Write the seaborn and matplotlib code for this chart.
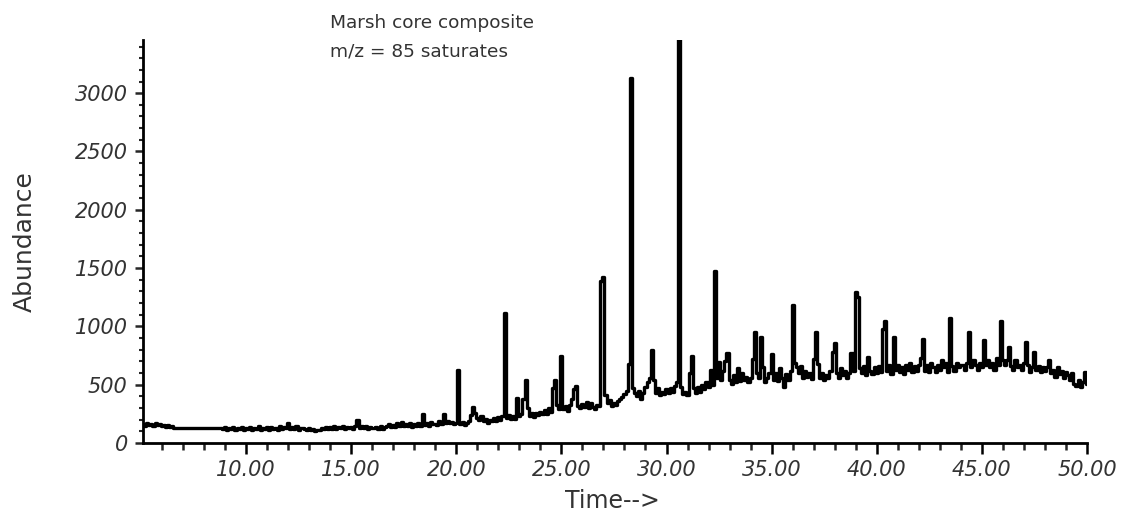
import numpy as np
import pandas as pd
import matplotlib
matplotlib.use("Agg")
import matplotlib.pyplot as plt
from matplotlib.ticker import MultipleLocator, FormatStrFormatter
import seaborn as sns

# Ion chromatogram, m/z 85, one scan value every 0.1 min from 5.1 to 50.0 min
abund_05_10 = [
    165, 150, 175, 158, 162, 148, 170, 155, 160, 145,
    152, 140, 158, 136, 145, 130, 130, 130, 130, 130,
    130, 130, 130, 130, 130, 130, 130, 130, 130, 130,
    130, 130, 130, 130, 130, 130, 130, 130, 118, 135,
    112, 130, 120, 138, 115, 128, 122, 140, 110, 126,
]
abund_10_15 = [
    118, 135, 112, 130, 120, 142, 115, 128, 120, 133,
    114, 138, 122, 126, 112, 145, 120, 135, 128, 172,
    120, 140, 118, 150, 115, 132, 125, 120, 112, 128,
    110, 118, 105, 112, 108, 130, 118, 140, 122, 135,
    120, 145, 118, 138, 125, 150, 120, 134, 128, 140,
]
abund_15_20 = [
    122, 148, 195, 130, 150, 125, 142, 120, 135, 128,
    125, 140, 122, 150, 118, 138, 145, 160, 135, 158,
    140, 168, 150, 178, 145, 165, 150, 172, 140, 160,
    150, 175, 148, 245, 155, 170, 145, 178, 160, 165,
    158, 185, 165, 245, 170, 190, 168, 180, 160, 175,
]
abund_20_25 = [
    630, 165, 180, 158, 175, 190, 240, 305, 260, 215,
    195, 230, 185, 210, 175, 200, 185, 215, 190, 220,
    200, 235, 1112, 215, 240, 205, 230, 210, 385, 230,
    250, 380, 540, 300, 235, 260, 225, 255, 240, 270,
    250, 280, 245, 300, 265, 470, 540, 330, 290, 746,
]
abund_25_30 = [
    290, 320, 275, 330, 380, 460, 490, 320, 300, 335,
    310, 355, 300, 340, 310, 290, 330, 315, 1390, 1420,
    410, 340, 370, 320, 345, 330, 360, 380, 395, 420,
    450, 680, 3130, 470, 430, 400, 445, 380, 430, 480,
    520, 560, 798, 540, 430, 470, 410, 440, 420, 460,
]
abund_30_35 = [
    430, 470, 440, 490, 520, 3600, 480, 420, 440, 410,
    600, 746, 470, 430, 480, 440, 500, 460, 520, 480,
    626, 500, 1478, 560, 697, 540, 620, 700, 772, 540,
    510, 580, 520, 640, 530, 600, 540, 570, 520, 560,
    720, 955, 600, 560, 909, 650, 520, 560, 600, 763,
]
abund_35_40 = [
    540, 600, 530, 640, 560, 480, 590, 540, 620, 1183,
    690, 654, 600, 660, 560, 620, 570, 600, 550, 720,
    955, 680, 560, 600, 540, 580, 560, 620, 780, 860,
    600, 560, 640, 580, 620, 560, 600, 772, 620, 1298,
    1250, 640, 600, 660, 580, 740, 620, 590, 650, 600,
]
abund_40_45 = [
    660, 610, 980, 1049, 620, 670, 590, 909, 630, 670,
    610, 650, 590, 670, 630, 690, 610, 660, 620, 670,
    730, 889, 620, 670, 610, 690, 650, 610, 670, 630,
    710, 650, 690, 610, 1069, 660, 620, 690, 650, 670,
    670, 630, 690, 955, 650, 710, 670, 630, 690, 650,
]
abund_45_50 = [
    883, 670, 710, 650, 690, 630, 730, 670, 1046, 710,
    670, 710, 826, 660, 630, 710, 650, 670, 630, 690,
    869, 670, 610, 650, 783, 630, 660, 610, 650, 620,
    650, 712, 600, 630, 570, 650, 590, 620, 560, 610,
    580, 540, 600, 510, 490, 540, 480, 520, 612, 510,
]

title_lines = ["Marsh core composite", "m/z = 85 saturates"]

abundance = np.concatenate([abund_05_10, abund_10_15, abund_15_20, abund_20_25,
                            abund_25_30, abund_30_35, abund_35_40, abund_40_45,
                            abund_45_50])
scan_index = np.arange(51, 51 + len(abundance))
df = pd.DataFrame({"time": scan_index / 10.0, "abundance": abundance})

sns.set_style("ticks")
plt.rcParams["font.family"] = ["DejaVu Sans"]

fig = plt.figure(figsize=(11.22, 5.18), dpi=100)
ax = fig.add_axes([143 / 1122, 1 - 443 / 518, (1087 - 143) / 1122, (443 - 40) / 518])

# detector trace drawn as scan steps, like the instrument plot
sns.lineplot(data=df, x="time", y="abundance", ax=ax, color="black",
             linewidth=2.4, estimator=None, sort=False, drawstyle="steps-mid")

ax.set_xlim(5.1, 50.0)
ax.set_ylim(0, 3456)

for side in ("top", "right"):
    ax.spines[side].set_visible(False)
for side in ("left", "bottom"):
    ax.spines[side].set_linewidth(2.0)
    ax.spines[side].set_color("black")

ax.xaxis.set_major_locator(MultipleLocator(5))
ax.xaxis.set_minor_locator(MultipleLocator(1))
ax.xaxis.set_major_formatter(FormatStrFormatter("%.2f"))
ax.yaxis.set_major_locator(MultipleLocator(500))
ax.yaxis.set_minor_locator(MultipleLocator(100))

ax.tick_params(axis="x", which="major", direction="out", length=8, width=1.8,
               pad=4, labelsize=15, colors="black", labelcolor="#333333")
ax.tick_params(axis="x", which="minor", direction="out", length=5, width=1.8)
ax.tick_params(axis="y", which="major", direction="out", length=6, width=1.8,
               pad=5, labelsize=15, labelcolor="#333333")
ax.tick_params(axis="y", which="minor", direction="out", length=3, width=1.5)
for lbl in ax.get_xticklabels() + ax.get_yticklabels():
    lbl.set_fontstyle("italic")

ax.set_xlabel("Time-->", fontsize=17, color="#333333")
ax.set_ylabel("Abundance", fontsize=18, color="#333333")
ax.xaxis.set_label_coords(0.497, -0.115)
ax.yaxis.set_label_coords(-0.112, 0.5)

fig.text(330 / 1122, 1 - 28 / 518, title_lines[0], fontsize=13.3,
         color="#333333", va="baseline", ha="left")
fig.text(330 / 1122, 1 - 56 / 518, title_lines[1], fontsize=13.3,
         color="#333333", va="baseline", ha="left")

fig.savefig("out.png", dpi=100)
